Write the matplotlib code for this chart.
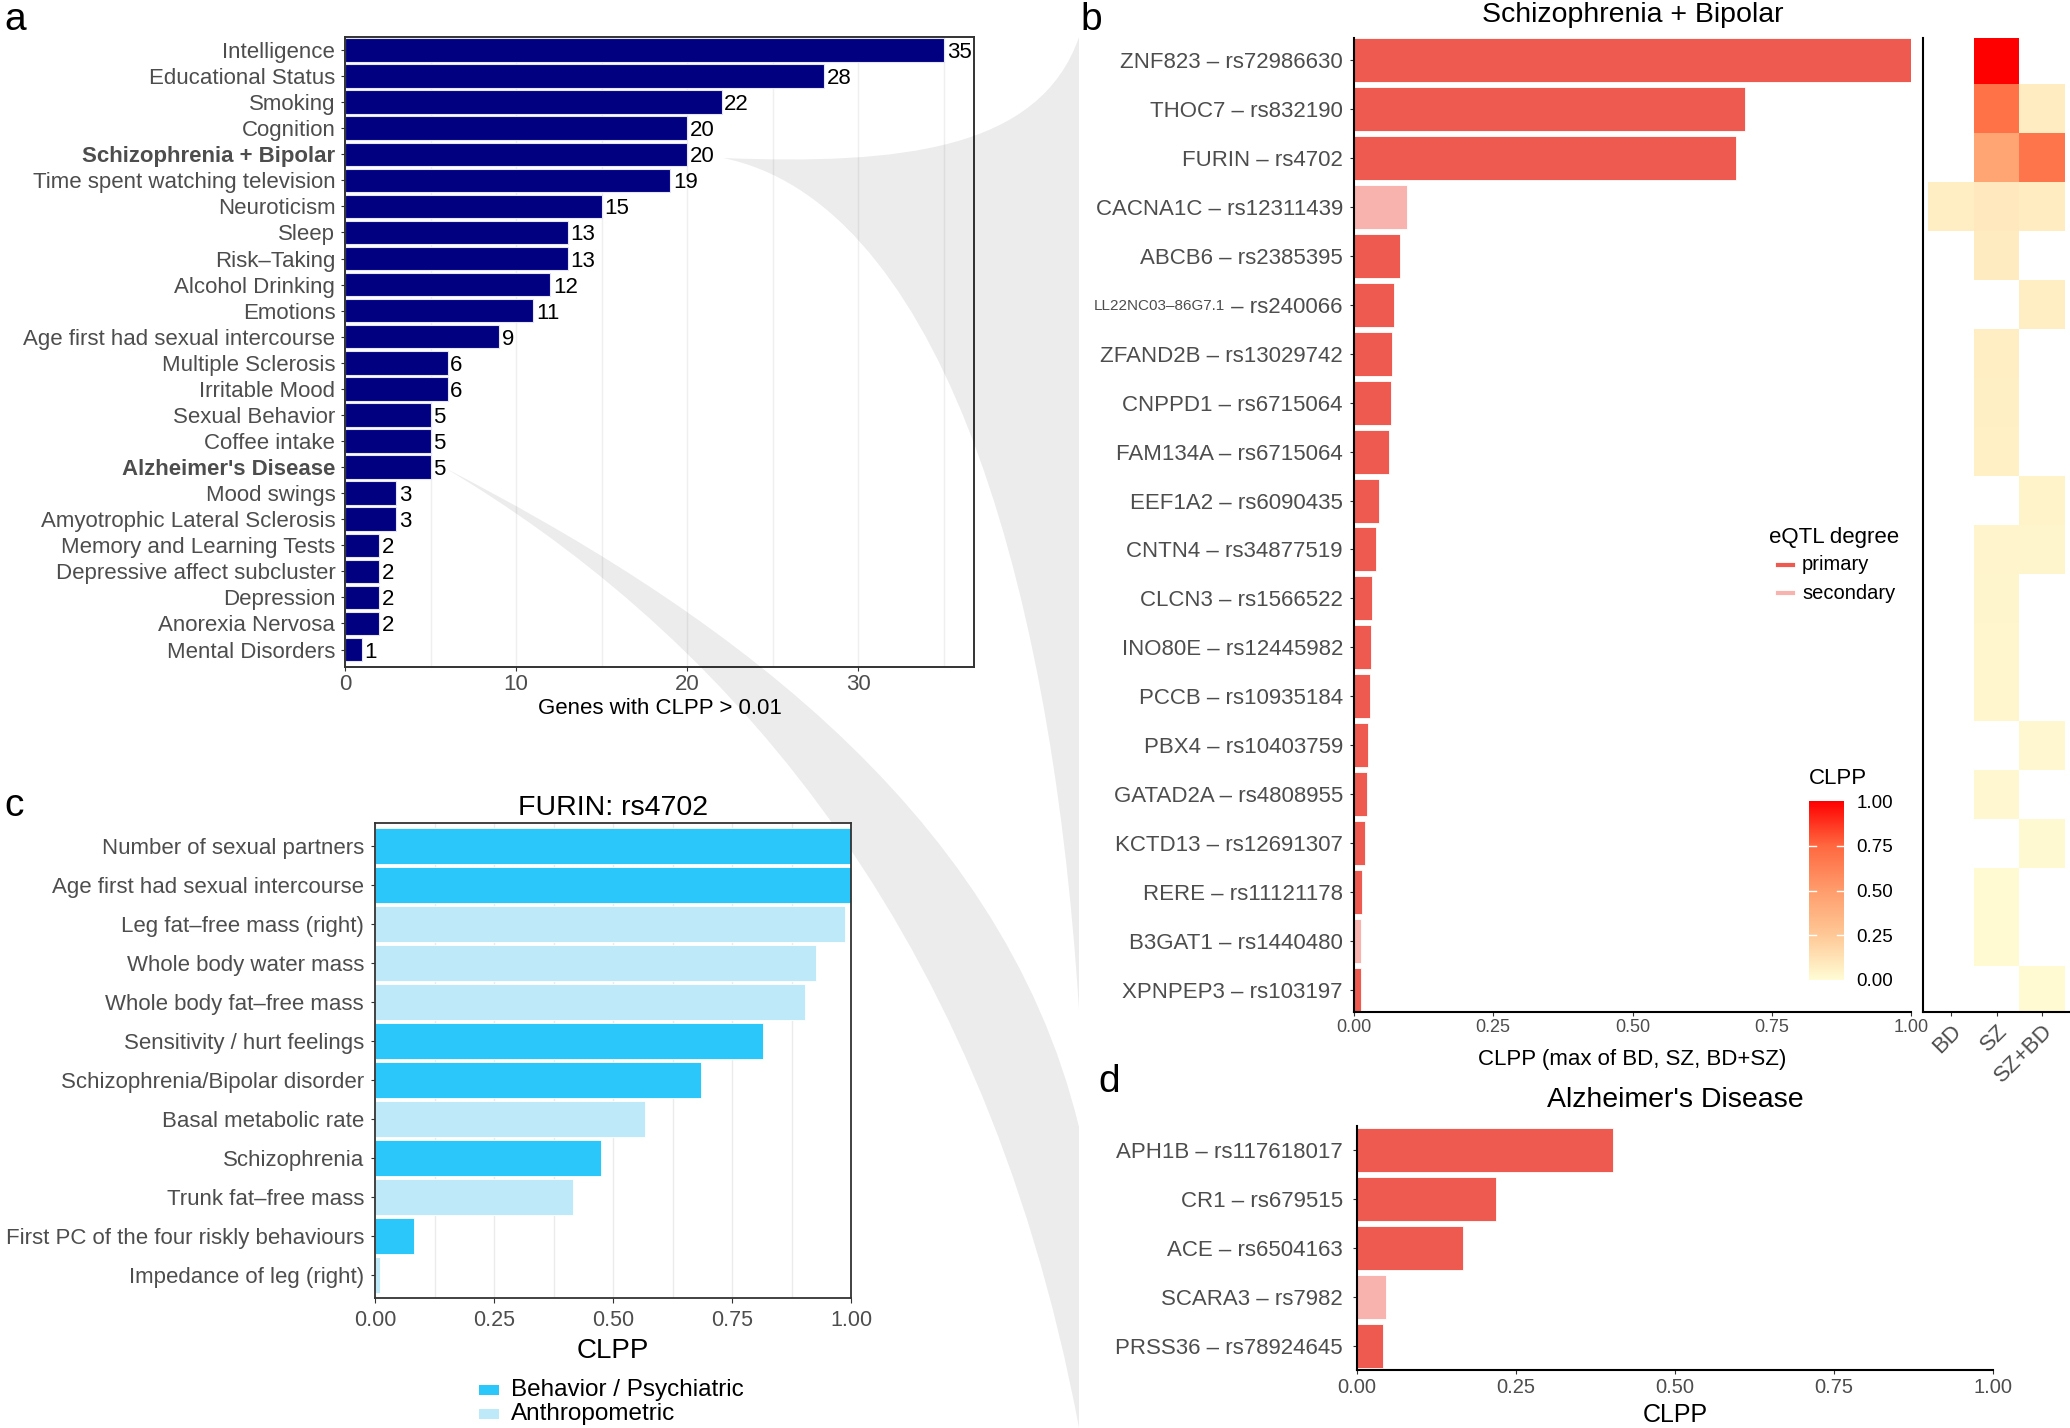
import numpy as np
import matplotlib
matplotlib.use('Agg')
import matplotlib.pyplot as plt
from matplotlib.path import Path
from matplotlib.patches import PathPatch, Rectangle
from matplotlib.lines import Line2D
from matplotlib.colors import LinearSegmentedColormap, Normalize
from matplotlib.cm import ScalarMappable
from matplotlib.transforms import offset_copy

plt.rcParams['font.family'] = ['Liberation Sans', 'DejaVu Sans']

# ---- data ----
traits_a = ['Intelligence', 'Educational Status', 'Smoking', 'Cognition',
            'Schizophrenia + Bipolar', 'Time spent watching television',
            'Neuroticism', 'Sleep', 'Risk–Taking', 'Alcohol Drinking',
            'Emotions', 'Age first had sexual intercourse',
            'Multiple Sclerosis', 'Irritable Mood', 'Sexual Behavior',
            'Coffee intake', "Alzheimer's Disease", 'Mood swings',
            'Amyotrophic Lateral Sclerosis', 'Memory and Learning Tests',
            'Depressive affect subcluster', 'Depression', 'Anorexia Nervosa',
            'Mental Disorders']
genes_a = [35, 28, 22, 20, 20, 19, 15, 13, 13, 12, 11, 9, 6, 6, 5, 5, 5,
           3, 3, 2, 2, 2, 2, 1]
bold_a = ['Schizophrenia + Bipolar', "Alzheimer's Disease"]

loci_b = ['ZNF823 – rs72986630', 'THOC7 – rs832190', 'FURIN – rs4702',
          'CACNA1C – rs12311439', 'ABCB6 – rs2385395',
          'LL22NC03–86G7.1 – rs240066', 'ZFAND2B – rs13029742',
          'CNPPD1 – rs6715064', 'FAM134A – rs6715064', 'EEF1A2 – rs6090435',
          'CNTN4 – rs34877519', 'CLCN3 – rs1566522', 'INO80E – rs12445982',
          'PCCB – rs10935184', 'PBX4 – rs10403759', 'GATAD2A – rs4808955',
          'KCTD13 – rs12691307', 'RERE – rs11121178', 'B3GAT1 – rs1440480',
          'XPNPEP3 – rs103197']
clpp_b = [1.0, 0.702, 0.685, 0.096, 0.083, 0.071, 0.069, 0.066, 0.062,
          0.045, 0.040, 0.033, 0.031, 0.028, 0.026, 0.024, 0.019, 0.014,
          0.012, 0.012]
degree_b = ['primary', 'primary', 'primary', 'secondary', 'primary',
            'primary', 'primary', 'primary', 'primary', 'primary', 'primary',
            'primary', 'primary', 'primary', 'primary', 'primary', 'primary',
            'primary', 'secondary', 'primary']
nan = np.nan
heat_cols = ['BD', 'SZ', 'SZ+BD']
clpp_bd = [nan, nan, nan, 0.07, nan, nan, nan, nan, nan, nan, nan, nan, nan,
           nan, nan, nan, nan, nan, nan, nan]
clpp_sz = [1.0, 0.70, 0.45, 0.096, 0.083, nan, 0.069, 0.066, 0.062, nan,
           0.040, 0.033, 0.031, 0.028, nan, 0.024, nan, 0.014, 0.012, nan]
clpp_szbd = [nan, 0.08, 0.685, 0.08, nan, 0.071, nan, nan, nan, 0.045, 0.035,
             nan, nan, nan, 0.026, nan, 0.019, nan, nan, 0.012]

traits_c = ['Number of sexual partners', 'Age first had sexual intercourse',
            'Leg fat–free mass (right)', 'Whole body water mass',
            'Whole body fat–free mass', 'Sensitivity / hurt feelings',
            'Schizophrenia/Bipolar disorder', 'Basal metabolic rate',
            'Schizophrenia', 'Trunk fat–free mass',
            'First PC of the four riskly behaviours',
            'Impedance of leg (right)']
clpp_c = [1.0, 1.0, 0.987, 0.926, 0.903, 0.816, 0.685, 0.567, 0.475, 0.415,
          0.082, 0.011]
category_c = ['Behavior / Psychiatric', 'Behavior / Psychiatric',
              'Anthropometric', 'Anthropometric', 'Anthropometric',
              'Behavior / Psychiatric', 'Behavior / Psychiatric',
              'Anthropometric', 'Behavior / Psychiatric', 'Anthropometric',
              'Behavior / Psychiatric', 'Anthropometric']

loci_d = ['APH1B – rs117618017', 'CR1 – rs679515', 'ACE – rs6504163',
          'SCARA3 – rs7982', 'PRSS36 – rs78924645']
clpp_d = [0.402, 0.218, 0.166, 0.046, 0.041]
degree_d = ['primary', 'primary', 'primary', 'secondary', 'primary']

# ---- styling ----
W, H = 2070, 1428
NAVY = '#000080'
deg_colors = {'primary': '#EF5A50', 'secondary': '#F8B3AE'}
cat_colors = {'Behavior / Psychiatric': '#2BC7FB', 'Anthropometric': '#BDE9F9'}
TXT = '#4D4D4D'
AXC = '#333333'
cmap = LinearSegmentedColormap.from_list(
    'clpp', [(0, '#FFFCD5'), (0.25, '#FFC896'), (0.5, '#FF9C6C'),
             (0.75, '#FF6840'), (1, '#FF0000')])


def box(x0, y0, x1, y1):
    return [x0 / W, 1 - y1 / H, (x1 - x0) / W, (y1 - y0) / H]


def pt(x, y):
    return (x / W, 1 - y / H)


def xlabel_at(ax, text, y_px, top, bottom, size):
    ax.set_xlabel(text, fontsize=size, color='black')
    ax.xaxis.set_label_coords(0.5, (bottom - y_px) / (bottom - top))
    ax.xaxis.label.set_va('center')


fig = plt.figure(figsize=(W / 100, H / 100), dpi=100)
fig.patch.set_facecolor('white')

# ---- panel a ----
ax_a = fig.add_axes(box(345, 37, 974, 667))
ya = np.arange(len(traits_a))[::-1]
ax_a.barh(ya, genes_a, height=0.9, color=NAVY, edgecolor='#E4E4F2',
          linewidth=0.8, zorder=2)
for y, v in zip(ya, genes_a):
    ax_a.text(v + 0.15, y, str(v), ha='left', va='center_baseline',
              fontsize=16, color='black', zorder=3)
ax_a.set_xlim(0, 36.75)
ax_a.set_ylim(-0.67, 23.5)
ax_a.set_xticks([0, 10, 20, 30])
ax_a.set_xticks([5, 15, 25, 35], minor=True)
ax_a.set_yticks(ya, traits_a)
ax_a.grid(axis='x', which='both', color='#EFEFEF', lw=1)
ax_a.set_axisbelow(True)
ax_a.tick_params(axis='x', length=3, pad=2, labelsize=16, color=AXC,
                 labelcolor=TXT)
ax_a.tick_params(axis='y', length=3, pad=4, labelsize=16, color=AXC,
                 labelcolor=TXT)
ax_a.tick_params(which='minor', length=0)
for lab in ax_a.get_yticklabels():
    if lab.get_text() in bold_a:
        lab.set_fontweight('bold')
for s in ax_a.spines.values():
    s.set_color(AXC)
    s.set_linewidth(1.4)
xlabel_at(ax_a, 'Genes with CLPP > 0.01', 709, 37, 667, 16)

# ---- connector wedges ----
v1 = [pt(723, 158), pt(900, 165), pt(1040, 150), pt(1079, 37),
      pt(1079, 1010), pt(1050, 550), pt(930, 200), pt(723, 158),
      pt(723, 158)]
v2 = [pt(445, 468), pt(700, 600), pt(1000, 800), pt(1079, 1127),
      pt(1079, 1428), pt(980, 900), pt(700, 620), pt(445, 468),
      pt(445, 468)]
codes = [Path.MOVETO, Path.CURVE4, Path.CURVE4, Path.CURVE4, Path.LINETO,
         Path.CURVE4, Path.CURVE4, Path.CURVE4, Path.CLOSEPOLY]
for verts in (v1, v2):
    fig.add_artist(PathPatch(Path(verts, codes), transform=fig.transFigure,
                             facecolor=(0, 0, 0, 0.075), edgecolor='none',
                             zorder=0.5))

# ---- panel b ----
ax_b = fig.add_axes(box(1354, 38, 1911, 1012), zorder=1)
yb = np.arange(len(loci_b))[::-1] + 1
ax_b.barh(yb, clpp_b, height=0.9, color=[deg_colors[d] for d in degree_b],
          edgecolor='white', linewidth=0.6)
ax_b.set_xlim(0, 1)
ax_b.set_ylim(0.55, 20.45)
ax_b.set_xticks([0, 0.25, 0.5, 0.75, 1.0], ['0.00', '0.25', '0.50', '0.75', '1.00'])
ax_b.set_yticks(yb, ['' if l.startswith('LL22') else l for l in loci_b])
ax_b.tick_params(axis='x', length=3, pad=2, labelsize=13, color=AXC,
                 labelcolor=TXT)
ax_b.tick_params(axis='y', length=3, pad=5, labelsize=16, color=AXC,
                 labelcolor=TXT)
for side in ('top', 'right'):
    ax_b.spines[side].set_visible(False)
for side in ('left', 'bottom'):
    ax_b.spines[side].set_color('black')
    ax_b.spines[side].set_linewidth(1.5)
xlabel_at(ax_b, 'CLPP (max of BD, SZ, BD+SZ)', 1060, 38, 1012, 16)

# gene label with a smaller gene name
ll_idx = [i for i, l in enumerate(loci_b) if l.startswith('LL22')][0]
gene, snp = loci_b[ll_idx].split(' – ')
renderer = fig.canvas.get_renderer()
off = -8 * 100 / 72
t1 = ax_b.text(0, yb[ll_idx], ' – ' + snp, ha='right', va='center_baseline',
               fontsize=16, color=TXT,
               transform=offset_copy(ax_b.get_yaxis_transform(), fig=fig,
                                     x=off, units='dots'))
w1 = t1.get_window_extent(renderer).width
ax_b.text(0, yb[ll_idx], gene, ha='right', va='center_baseline', fontsize=11,
          color=TXT, transform=offset_copy(ax_b.get_yaxis_transform(),
                                           fig=fig, x=off - w1, units='dots'))

# heatmap
ax_h = fig.add_axes(box(1923, 38, 2070, 1012), zorder=1)
tiles = np.ma.masked_invalid(np.array([clpp_bd, clpp_sz, clpp_szbd]).T[::-1])
ax_h.pcolormesh(np.arange(0.5, 4), np.arange(0.5, 21), tiles, cmap=cmap,
                vmin=0, vmax=1, edgecolors='face', linewidth=0)
ax_h.set_xlim(0.4, 3.6)
ax_h.set_ylim(0.55, 20.45)
ax_h.set_xticks([1, 2, 3], heat_cols)
ax_h.set_yticks([])
ax_h.tick_params(axis='x', length=3, pad=3, labelsize=16, color=AXC,
                 labelcolor=TXT)
for lab in ax_h.get_xticklabels():
    lab.set_rotation(45)
    lab.set_ha('right')
    lab.set_va('top')
    lab.set_rotation_mode('anchor')
for side in ('top', 'right'):
    ax_h.spines[side].set_visible(False)
for side in ('left', 'bottom'):
    ax_h.spines[side].set_color('black')
    ax_h.spines[side].set_linewidth(1.5)

# eQTL degree legend
fig.text(*pt(1769, 537), 'eQTL degree', ha='left', va='center', fontsize=16)
for name, yy in [('primary', 565), ('secondary', 593)]:
    fig.add_artist(Line2D([1778 / W, 1793 / W], [1 - yy / H, 1 - yy / H],
                          color=deg_colors[name], lw=3,
                          transform=fig.transFigure))
    fig.text(*pt(1802, yy), name, ha='left', va='center', fontsize=14.5)

# CLPP colourbar
cax = fig.add_axes(box(1809, 801, 1844, 980), zorder=2)
cb = fig.colorbar(ScalarMappable(norm=Normalize(0, 1), cmap=cmap), cax=cax,
                  ticks=[0, 0.25, 0.5, 0.75, 1.0])
cb.outline.set_visible(False)
cb.ax.set_yticklabels(['0.00', '0.25', '0.50', '0.75', '1.00'])
cax.tick_params(length=0, labelsize=13.5, pad=9)
for v in [0.25, 0.5, 0.75]:
    cax.axhline(v, xmin=0, xmax=0.2, color='white', lw=1)
    cax.axhline(v, xmin=0.8, xmax=1, color='white', lw=1)
fig.text(*pt(1809, 779), 'CLPP', ha='left', va='center', fontsize=16)

# ---- panel c ----
ax_c = fig.add_axes(box(375, 823, 851, 1298), zorder=1)
yc = np.arange(len(traits_c))[::-1] + 1
ax_c.barh(yc, clpp_c, height=0.9,
          color=[cat_colors[c] for c in category_c], edgecolor='white',
          linewidth=0.6, zorder=2)
ax_c.set_xlim(0, 1)
ax_c.set_ylim(0.41, 12.59)
ax_c.set_xticks([0, 0.25, 0.5, 0.75, 1.0], ['0.00', '0.25', '0.50', '0.75', '1.00'])
ax_c.set_xticks([0.125, 0.375, 0.625, 0.875], minor=True)
ax_c.set_yticks(yc, traits_c)
ax_c.grid(axis='x', which='both', color='#EBEBEB', lw=1)
ax_c.set_axisbelow(True)
ax_c.tick_params(axis='x', length=3.5, pad=5, labelsize=15.5, color=AXC,
                 labelcolor=TXT)
ax_c.tick_params(axis='y', length=3, pad=5, labelsize=16, color=AXC,
                 labelcolor=TXT)
ax_c.tick_params(which='minor', length=0)
for s in ax_c.spines.values():
    s.set_color(AXC)
    s.set_linewidth(1.3)
xlabel_at(ax_c, 'CLPP', 1351, 823, 1298, 20)

for name, yy in [('Behavior / Psychiatric', 1390), ('Anthropometric', 1414)]:
    fig.add_artist(Rectangle(pt(479, yy + 5), 20 / W, 10 / H,
                             transform=fig.transFigure,
                             facecolor=cat_colors[name], edgecolor='none'))
    fig.text(*pt(511, yy), name, ha='left', va='center', fontsize=17.5)

# ---- panel d ----
ax_d = fig.add_axes(box(1357, 1126, 1993, 1370), zorder=1)
yd = np.arange(len(loci_d))[::-1] + 1
ax_d.barh(yd, clpp_d, height=0.9, color=[deg_colors[d] for d in degree_d],
          edgecolor='white', linewidth=0.6)
ax_d.set_xlim(0, 1)
ax_d.set_ylim(0.5, 5.5)
ax_d.set_xticks([0, 0.25, 0.5, 0.75, 1.0], ['0.00', '0.25', '0.50', '0.75', '1.00'])
ax_d.set_yticks(yd, loci_d)
ax_d.tick_params(axis='x', length=3, pad=2.5, labelsize=14.5, color=AXC,
                 labelcolor=TXT)
ax_d.tick_params(axis='y', length=3, pad=7, labelsize=16, color=AXC,
                 labelcolor=TXT)
for side in ('top', 'right'):
    ax_d.spines[side].set_visible(False)
for side in ('left', 'bottom'):
    ax_d.spines[side].set_color('black')
    ax_d.spines[side].set_linewidth(1.5)
xlabel_at(ax_d, 'CLPP', 1415, 1126, 1370, 18)

# ---- titles and panel letters ----
fig.text(*pt(1633, 15), 'Schizophrenia + Bipolar', ha='center', va='center',
         fontsize=20.5)
fig.text(*pt(613, 808), 'FURIN: rs4702', ha='center', va='center',
         fontsize=20.5)
fig.text(*pt(1675, 1100), "Alzheimer's Disease", ha='center', va='center',
         fontsize=20.5)
for letter, (x, y) in zip('abcd', [(4, 20), (1080, 20), (4, 806),
                                   (1098, 1082)]):
    fig.text(*pt(x, y), letter, ha='left', va='center', fontsize=28)

fig.savefig('out.png', dpi=100)
